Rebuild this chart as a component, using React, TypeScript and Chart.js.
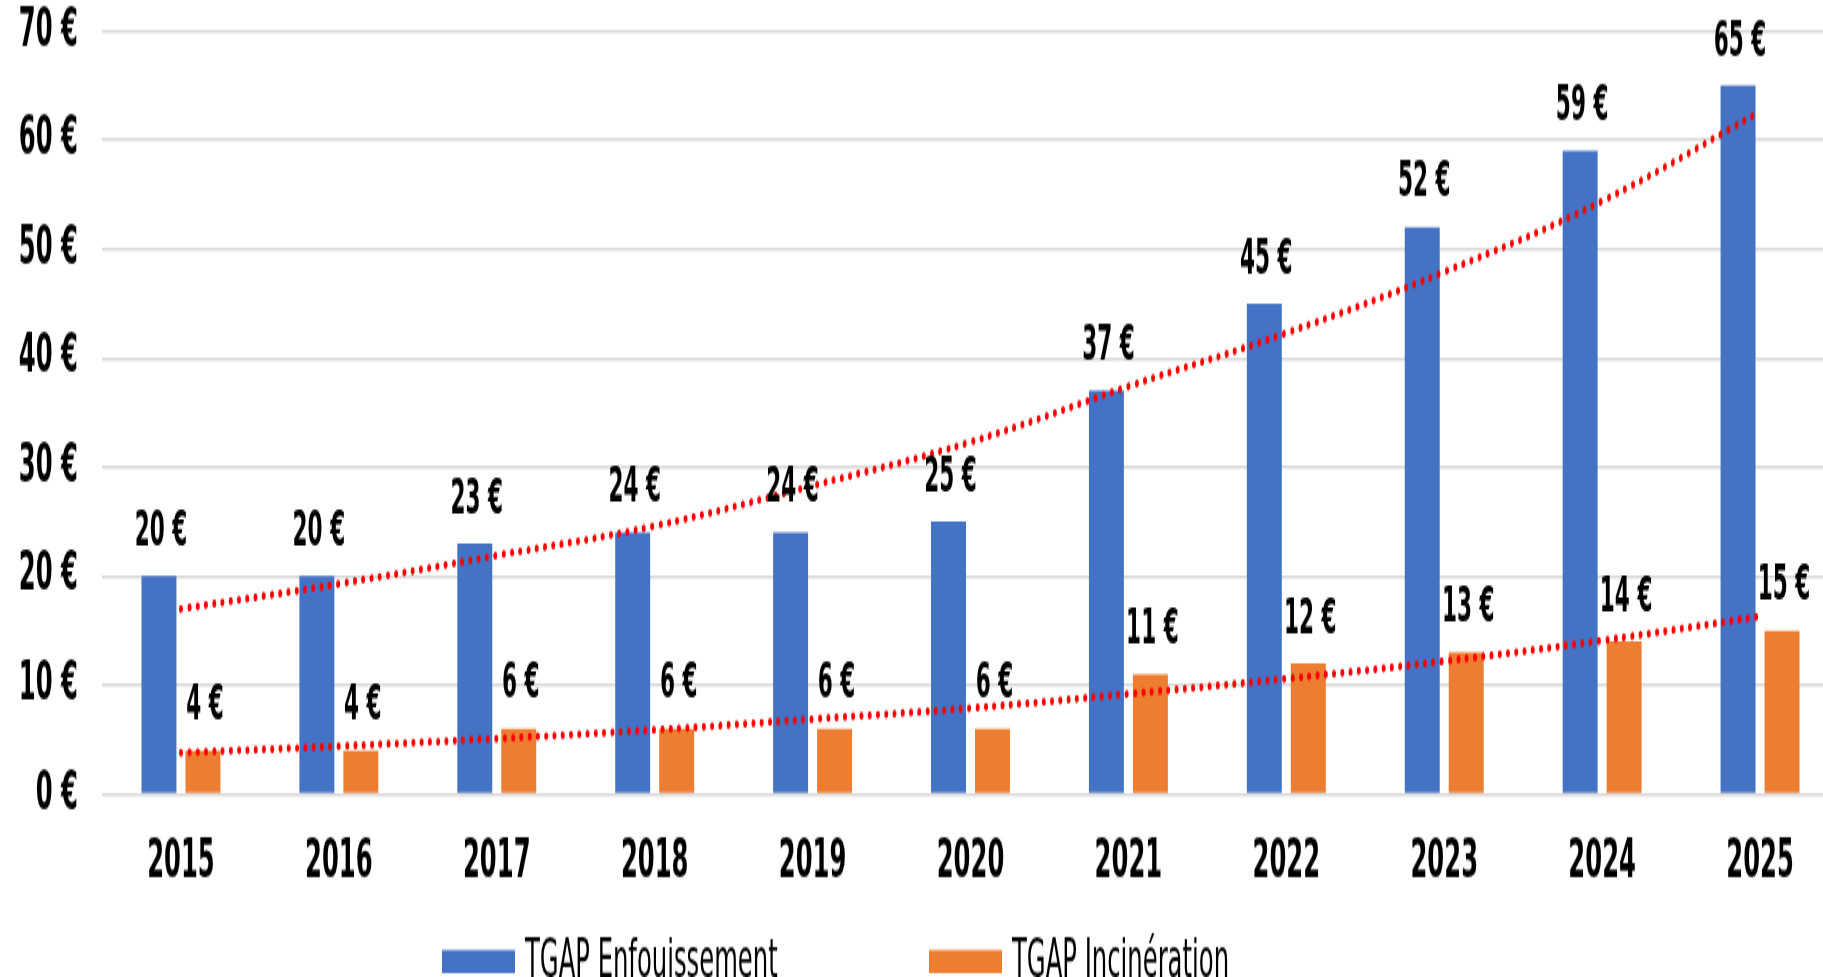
import { useEffect, useRef } from "react";
import { Chart, registerables } from "chart.js";

Chart.register(...registerables);

// ---- data ----
const years = ["2015", "2016", "2017", "2018", "2019", "2020", "2021", "2022", "2023", "2024", "2025"];
const enfouissement = [20, 20, 23, 24, 24, 25, 37, 45, 52, 59, 65];
const incineration = [4, 4, 6, 6, 6, 6, 11, 12, 13, 14, 15];
// trend lines, values at each category centre
const enfouissementTrend = [17.0, 19.3, 21.9, 24.6, 28.3, 32.3, 37.4, 42.3, 47.9, 54.4, 62.6];
const incinerationTrend = [3.8, 4.4, 5.1, 5.9, 6.9, 7.9, 9.2, 10.6, 12.2, 14.1, 16.3];
const legendLabels = ["TGAP Enfouissement", "TGAP Incinération"];
const yMin = 0;
const yMax = 70;
const yStep = 10;

const BLUE = "#4472C4";
const ORANGE = "#ED7D31";
const RED = "#FF0000";
const FONT = '"Liberation Sans Narrow", "Arial Narrow", "DejaVu Sans Condensed", sans-serif';

// canvas drawn at a reduced height then stretched vertically (as in the reference)
const CW = 1840;
const CH = 489;
const DISPLAY_H = 977;

const valueLabels = {
  id: "valueLabels",
  afterDatasetsDraw(chart: any) {
    const ctx = chart.ctx;
    ctx.save();
    ctx.font = `bold 24px ${FONT}`;
    ctx.fillStyle = "#000";
    ctx.textAlign = "center";
    ctx.textBaseline = "middle";
    chart.data.datasets.forEach((ds: any, i: number) => {
      const meta = chart.getDatasetMeta(i);
      if (meta.type !== "bar") return;
      meta.data.forEach((el: any, j: number) => {
        ctx.fillText(`${ds.data[j]} €`, el.x + 2, el.y - 21.5);
      });
    });
    ctx.restore();
  },
};

const customLegend = {
  id: "customLegend",
  afterDraw(chart: any) {
    const ctx = chart.ctx;
    ctx.save();
    ctx.font = `27px ${FONT}`;
    ctx.textBaseline = "middle";
    ctx.textAlign = "left";
    const items = [
      { x: 442, color: BLUE, text: legendLabels[0] },
      { x: 929, color: ORANGE, text: legendLabels[1] },
    ];
    items.forEach((it) => {
      ctx.fillStyle = it.color;
      ctx.fillRect(it.x, 475.5, 73, 11.5);
      ctx.fillStyle = "#000";
      ctx.fillText(it.text, it.x + 83, 482);
    });
    ctx.restore();
  },
};

export default function App() {
  const ref = useRef<HTMLCanvasElement | null>(null);

  useEffect(() => {
    if (!ref.current) return;
    const trendStyle = {
      type: "line",
      borderColor: RED,
      borderWidth: 4,
      borderDash: [0.1, 8.2],
      borderCapStyle: "round",
      pointRadius: 0,
      tension: 0.4,
      fill: false,
      order: 0,
    };
    const chart = new Chart(ref.current, {
      type: "bar",
      data: {
        labels: years,
        datasets: [
          { ...trendStyle, label: "Tendance enfouissement", data: enfouissementTrend } as any,
          { ...trendStyle, label: "Tendance incinération", data: incinerationTrend } as any,
          {
            label: legendLabels[0],
            data: enfouissement,
            backgroundColor: BLUE,
            borderWidth: 0,
            categoryPercentage: 0.557,
            barPercentage: 0.795,
            order: 1,
          },
          {
            label: legendLabels[1],
            data: incineration,
            backgroundColor: ORANGE,
            borderWidth: 0,
            categoryPercentage: 0.557,
            barPercentage: 0.795,
            order: 1,
          },
        ],
      },
      options: {
        animation: false,
        responsive: false,
        devicePixelRatio: 1,
        layout: { padding: { top: 15.5, right: 1, bottom: 0, left: 0 } },
        plugins: {
          legend: { display: false },
          tooltip: { enabled: false },
        },
        scales: {
          x: {
            grid: { display: false },
            border: { display: false },
            ticks: {
              color: "#000",
              padding: 10,
              font: { family: FONT, size: 27, weight: "bold" },
            },
            afterFit(scale: any) {
              scale.height = 91.5;
            },
          },
          y: {
            min: yMin,
            max: yMax,
            border: { display: false },
            grid: { color: "#D9D9D9", lineWidth: 1.4, drawTicks: false },
            ticks: {
              stepSize: yStep,
              color: "#000",
              padding: 24,
              font: { family: FONT, size: 27, weight: "bold", lineHeight: 1 },
              callback: (v: any) => `${v} €`,
            },
            afterFit(scale: any) {
              scale.width = 102;
              scale.paddingTop = 0;
              scale.paddingBottom = 0;
            },
          },
        },
      },
      plugins: [valueLabels, customLegend],
    });
    return () => chart.destroy();
  }, []);

  return (
    <div
      style={{
        position: "fixed",
        left: 0,
        top: 0,
        width: 1823,
        height: DISPLAY_H,
        overflow: "hidden",
        background: "#fff",
      }}
    >
      <canvas
        ref={ref}
        width={CW}
        height={CH}
        style={{ width: `${CW}px`, height: `${DISPLAY_H}px`, display: "block" }}
      />
    </div>
  );
}
